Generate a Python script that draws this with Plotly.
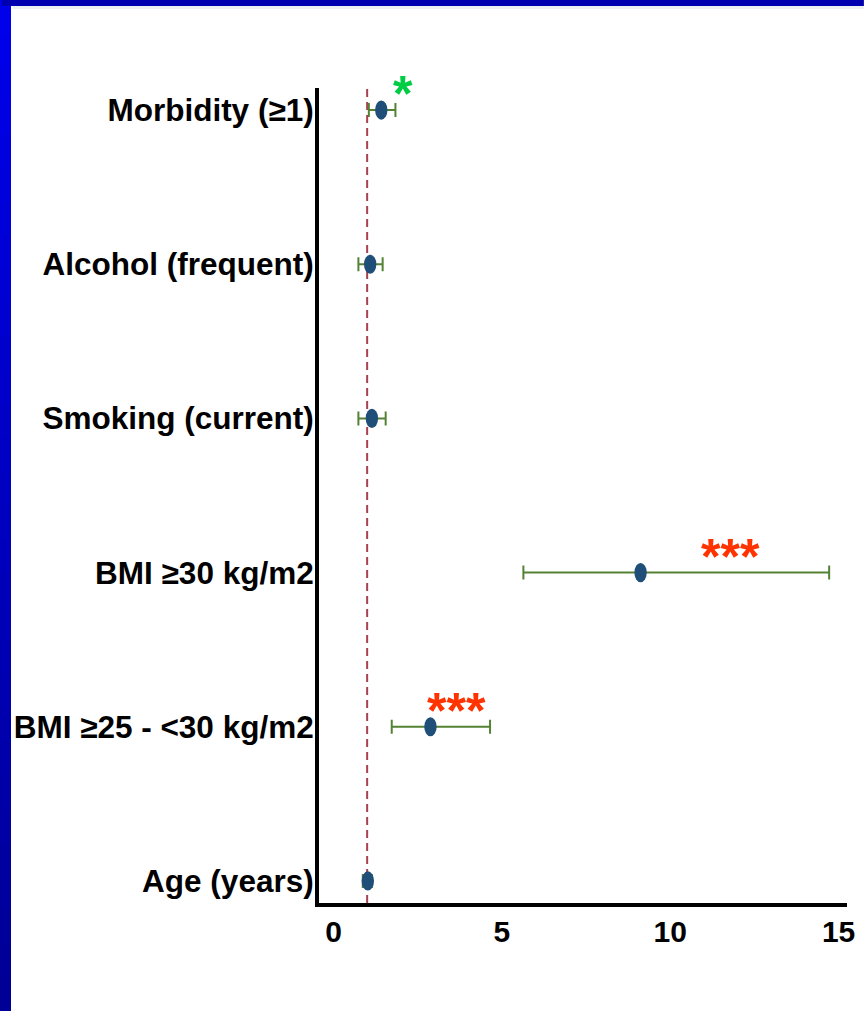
import plotly.graph_objects as go

categories = ["Age (years)", "BMI ≥25 - <30 kg/m2", "BMI ≥30 kg/m2",
              "Smoking (current)", "Alcohol (frequent)", "Morbidity (≥1)"]
estimate = [1.02, 2.88, 9.12, 1.14, 1.09, 1.42]
ci_low = [0.87, 1.73, 5.64, 0.74, 0.74, 1.05]
ci_high = [1.14, 4.65, 14.72, 1.55, 1.46, 1.84]
significance = ["", "***", "***", "", "", "*"]
x_ticks = [0, 5, 10, 15]
reference_value = 1

ypos = list(range(len(categories)))

fig = go.Figure()
fig.add_trace(go.Scatter(
    x=estimate, y=ypos, mode="markers",
    marker=dict(size=1, color="rgba(0,0,0,0)"),
    error_x=dict(type="data", symmetric=False,
                 array=[h - e for h, e in zip(ci_high, estimate)],
                 arrayminus=[e - l for e, l in zip(estimate, ci_low)],
                 color="#548235", thickness=2, width=7),
    showlegend=False, hoverinfo="skip",
))

shapes = []
# reference line
shapes.append(dict(type="line", xref="x", yref="paper", x0=reference_value, x1=reference_value,
                   y0=0, y1=1, line=dict(color="#A8414F", width=2, dash="8px,5px"), layer="below"))
# ellipse markers
for e, y in zip(estimate, ypos):
    shapes.append(dict(type="circle", xref="x", yref="y", xsizemode="pixel", ysizemode="pixel",
                       xanchor=e, yanchor=y, x0=-6.2, x1=6.2, y0=-9.6, y1=9.6,
                       fillcolor="#1F4E79", line=dict(width=0), layer="above"))
# slide decoration: left gradient bar and top bar
n = 30
seg = 1011 / n
for i in range(n):
    t = i / (n - 1)
    b = int(235 - (235 - 150) * t)
    shapes.append(dict(type="rect", xref="paper", yref="paper", xsizemode="pixel", ysizemode="pixel",
                       xanchor=0, yanchor=1, x0=-319, x1=-308,
                       y0=88 - (i + 1) * seg - 2, y1=88 - i * seg,
                       fillcolor=f"rgb(0,0,{b})", line=dict(width=0), layer="above"))
shapes.append(dict(type="rect", xref="paper", yref="paper", ysizemode="pixel", yanchor=1,
                   x0=-319 / 531, x1=1 + 17 / 531, y0=82, y1=88,
                   fillcolor="#0000B0", line=dict(width=0), layer="above"))
shapes.append(dict(type="rect", xref="paper", yref="paper", ysizemode="pixel", yanchor=1,
                   x0=-308 / 531, x1=1 + 17 / 531, y0=79, y1=82,
                   fillcolor="#EEF1F4", line=dict(width=0), layer="above"))

annotations = []
star_colors = {"*": "#00CC44", "***": "#FF3300"}
for e, h, y, s in zip(estimate, ci_high, ypos, significance):
    if not s:
        continue
    annotations.append(dict(
        x=(e + h) / 2, y=y, xref="x", yref="y", text=s, showarrow=False,
        xshift=15 if len(s) == 1 else -4, yshift=16,
        font=dict(family="Liberation Sans, Arial, sans-serif", size=50, weight="bold",
                  color=star_colors[s]),
    ))

fig.update_layout(
    width=867, height=1011,
    margin=dict(l=319, r=17, t=88, b=108),
    paper_bgcolor="white", plot_bgcolor="white",
    shapes=shapes, annotations=annotations,
    font=dict(family="Liberation Sans, Arial, sans-serif", color="black"),
    xaxis=dict(range=[-0.43, 15.25], tickvals=x_ticks, ticktext=[str(v) for v in x_ticks],
               showgrid=False, zeroline=False, showline=True, linecolor="black", linewidth=4,
               ticks="", tickfont=dict(size=30, weight="bold"), ticklabelstandoff=-1),
    yaxis=dict(range=[-0.143, 5.143], tickvals=ypos, ticktext=categories,
               showgrid=False, zeroline=False, showline=True, linecolor="black", linewidth=4,
               ticks="", tickfont=dict(size=31.5, weight="bold"), ticklabelstandoff=-5),
)

fig.write_html("out.html")
